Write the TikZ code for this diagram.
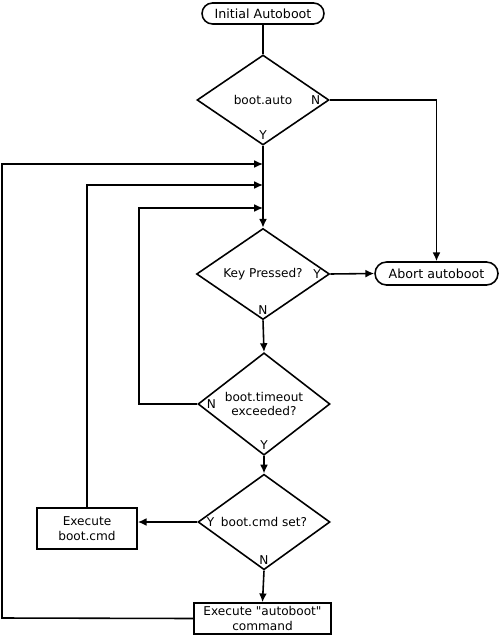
\documentclass[tikz,border=0pt]{standalone}
\usepackage{fontspec}
\setmainfont{DejaVu Sans}[Ligatures=TeXOff]
\usetikzlibrary{shapes.geometric,shapes.misc,arrows.meta}

\begin{document}
\begin{tikzpicture}[x=0.02cm,y=-0.02cm,line width=0.9pt,
  terminal/.style={draw,rounded rectangle,inner sep=0pt,font=\fontsize{7.2}{8.6}\selectfont},
  decision/.style={draw,diamond,inner sep=0pt,align=center,font=\fontsize{6.9}{8.3}\selectfont},
  process/.style={draw,rectangle,inner sep=0pt,align=center,font=\fontsize{6.9}{8.3}\selectfont},
  answer/.style={inner sep=0pt,font=\fontsize{6.9}{8.3}\selectfont},
  flow/.style={-{Latex[length=5pt,width=4.5pt]}}]
\useasboundingbox (0,0) rectangle (499,635);
\node[terminal,minimum width=2.44cm,minimum height=0.42cm] (start) at (263,13.5) {Initial Autoboot};
\node[decision,minimum width=2.64cm,minimum height=1.8cm] (auto) at (263,100) {boot.auto};
\node[decision,minimum width=2.66cm,minimum height=1.76cm] (key) at (263,274) {Key Pressed?};
\node[terminal,minimum width=2.46cm,minimum height=0.46cm] (abort) at (436.5,273.5) {Abort autoboot};
\node[decision,minimum width=2.64cm,minimum height=1.74cm] (timeout) at (264,404) {boot.timeout\\exceeded?};
\node[decision,minimum width=2.64cm,minimum height=1.76cm] (cmdset) at (264,522) {boot.cmd set?};
\node[process,minimum width=2cm,minimum height=0.82cm] (runcmd) at (87,528.5) {Execute\\boot.cmd};
\node[process,minimum width=2.74cm,minimum height=0.62cm] (runauto) at (262.5,618.5) {Execute "autoboot"\\command};
% Y / N marks
\node[answer,anchor=east] (autoN) at ([xshift=-5pt]auto.east) {N};
\node[answer,anchor=south] (autoY) at ([yshift=3pt]auto.south) {Y};
\node[answer,anchor=east] (keyY) at ([xshift=-5pt]key.east) {Y};
\node[answer,anchor=south] (keyN) at ([yshift=3pt]key.south) {N};
\node[answer,anchor=west] (timeoutN) at ([xshift=5pt]timeout.west) {N};
\node[answer,anchor=south] (timeoutY) at ([yshift=3pt]timeout.south) {Y};
\node[answer,anchor=west] (cmdsetY) at ([xshift=5pt]cmdset.west) {Y};
\node[answer,anchor=south] (cmdsetN) at ([yshift=3pt]cmdset.south) {N};
% merge points on the main line
\coordinate (m1) at (263,164);
\coordinate (m2) at (263,185);
\coordinate (m3) at (263,208);
\coordinate (c1) at (2,618);
\draw (start) -- (auto);
\draw[flow] (auto.east) -| (abort.north);
\draw[flow] (auto.south) -- (key.north);
\draw[flow] (key.east) -- (abort.west);
\draw[flow] (key.south) -- (timeout.north);
\draw[flow] (timeout.west) -- ++(-58,0) |- (m3);
\draw[flow] (timeout.south) -- (cmdset.north);
\draw[flow] (cmdset.west) -- (cmdset.west -| runcmd.east);
\draw[flow] (runcmd.north) |- (m2);
\draw[flow] (cmdset.south) -- (runauto.north);
\draw[flow] (runauto.west) -- (c1) |- (m1);
\end{tikzpicture}
\end{document}
